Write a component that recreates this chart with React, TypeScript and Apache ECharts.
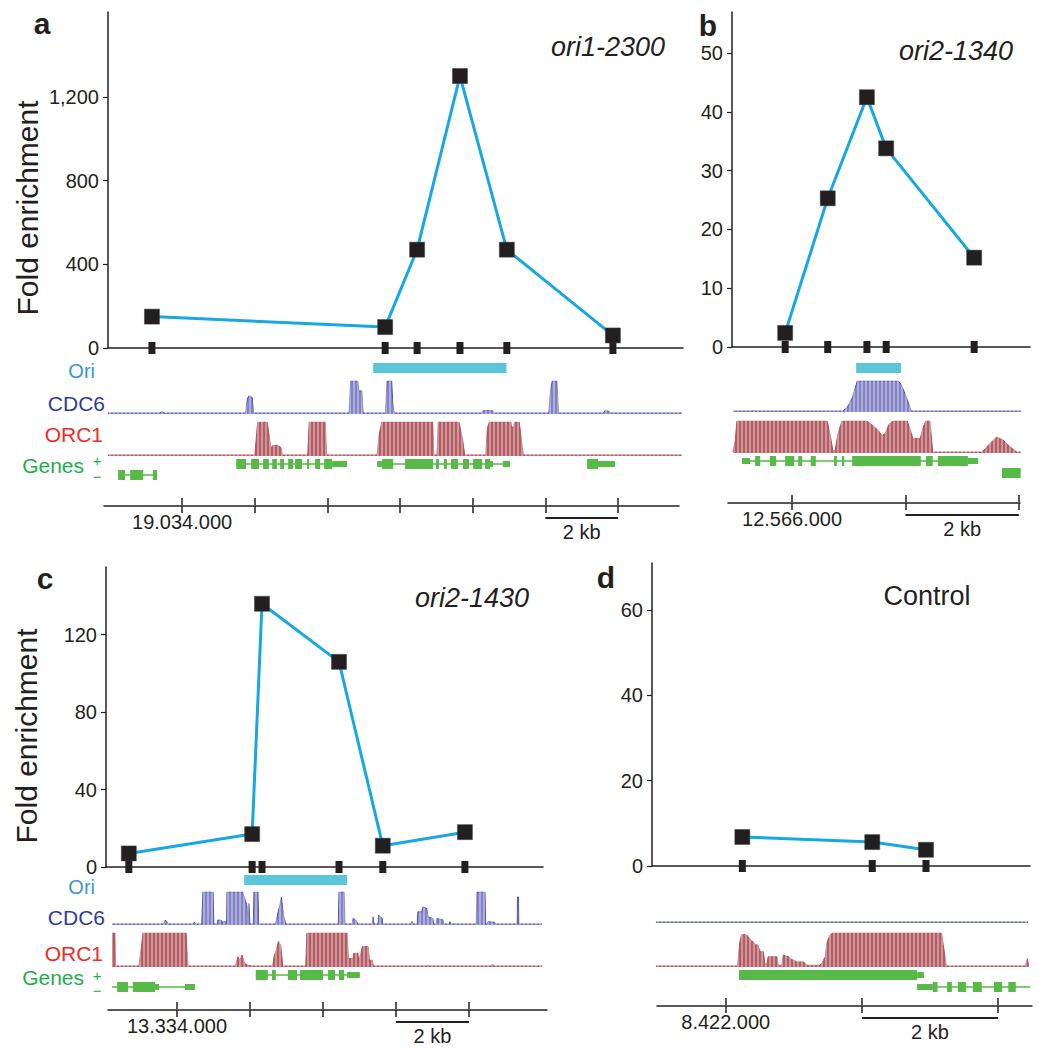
import React, { useEffect, useRef } from 'react';
import * as echarts from 'echarts';

// ================= DATA (positions in kb relative to the labelled coordinate) =================
// Panel a — ori1-2300 (reference 19.034.000)
const aProbeKb = [-0.83, 5.59, 6.47, 7.65, 8.94, 11.86];
const aFold = [150, 100, 470, 1300, 470, 60];
const aYTicks = [0, 400, 800, 1200];
const aOri = [5.26, 8.93];
const aCdc6 = [[-2.04, 0.03], [-0.62, 0.03], [-0.55, 0.07], [-0.48, 0.03], [1.75, 0.03], [1.79, 0.45], [1.84, 0.55], [1.93, 0.5], [1.97, 0.03], [4.6, 0.03], [4.64, 1], [4.84, 1], [4.86, 0.7], [4.95, 0.7], [4.98, 0.03], [5.6, 0.03], [5.64, 1], [5.77, 1], [5.8, 0.35], [5.84, 0.03], [8.26, 0.03], [8.29, 0.1], [8.54, 0.1], [8.57, 0.03], [10.1, 0.03], [10.14, 0.7], [10.19, 1], [10.32, 1], [10.36, 0.03], [11.6, 0.03], [11.64, 0.1], [11.76, 0.08], [11.79, 0.03], [13.76, 0.03]];
const aOrc1 = [[-2.04, 0.03], [2.0, 0.03], [2.04, 0.5], [2.08, 1], [2.34, 1], [2.4, 0.6], [2.44, 0.25], [2.5, 0.3], [2.62, 0.32], [2.72, 0.25], [2.76, 0.03], [3.46, 0.03], [3.5, 1], [3.94, 1], [3.98, 0.03], [5.37, 0.03], [5.42, 0.6], [5.5, 1], [6.9, 1], [6.93, 0.03], [7.02, 0.03], [7.05, 1], [7.62, 1], [7.72, 0.5], [7.78, 0.03], [8.36, 0.03], [8.4, 0.8], [8.46, 1], [9.05, 1], [9.07, 0.85], [9.13, 0.85], [9.16, 1], [9.28, 1], [9.34, 0.5], [9.39, 0.03], [13.76, 0.03]];
// genes: [start, end, row (0 = +, 1 = −), kind (0 intron, 1 UTR, 2 exon)]
const aGenes = [
  [1.49, 4.54, 0, 0], [1.49, 1.76, 0, 2], [1.9, 2.12, 0, 2], [2.23, 2.39, 0, 2], [2.48, 2.61, 0, 2], [2.7, 2.81, 0, 2], [2.92, 3.06, 0, 2], [3.11, 3.3, 0, 2], [3.44, 3.5, 0, 2], [3.66, 3.8, 0, 2], [3.91, 4.13, 0, 2], [4.13, 4.54, 0, 1],
  [5.37, 9.03, 0, 0], [5.37, 5.5, 0, 1], [5.5, 5.81, 0, 2], [6.14, 6.91, 0, 2], [6.99, 7.07, 0, 2], [7.21, 7.29, 0, 2], [7.4, 7.6, 0, 2], [7.73, 7.9, 0, 2], [8.01, 8.26, 0, 2], [8.34, 8.48, 0, 2], [8.48, 8.56, 0, 1], [8.83, 9.03, 0, 1],
  [11.15, 11.92, 0, 0], [11.15, 11.45, 0, 2], [11.45, 11.92, 0, 1],
  [-1.76, -0.69, 1, 0], [-1.76, -1.57, 1, 2], [-1.43, -1.07, 1, 2], [-0.8, -0.69, 1, 2],
];
const aScaleBar = [10, 12];
const aCoordTicks = [0, 2, 4, 6, 8, 10, 12];
const aCoordLabel = '19.034.000';

// Panel b — ori2-1340 (reference 12.566.000)
const bProbeKb = [-0.12, 0.63, 1.32, 1.66, 3.21];
const bFold = [2.4, 25.3, 42.5, 33.8, 15.2];
const bYTicks = [0, 10, 20, 30, 40, 50];
const bOri = [1.13, 1.92];
const bCdc6 = [[-1.04, 0.03], [-0.7, 0.03], [-0.68, 0.05], [-0.66, 0.03], [0.9, 0.03], [0.97, 0.15], [1.02, 0.3], [1.07, 0.5], [1.11, 0.75], [1.15, 1], [1.87, 1], [1.92, 0.9], [1.99, 0.6], [2.06, 0.25], [2.1, 0.03], [4.03, 0.03]];
const bOrc1 = [[-1.04, 0.03], [-1.0, 0.4], [-0.97, 1], [0.62, 1], [0.67, 0.6], [0.72, 0.08], [0.76, 0.08], [0.81, 0.6], [0.88, 1], [1.32, 1], [1.43, 0.85], [1.52, 0.7], [1.59, 0.55], [1.64, 0.6], [1.71, 0.9], [1.78, 1], [2.03, 1], [2.08, 0.75], [2.13, 0.45], [2.26, 0.45], [2.31, 0.8], [2.36, 1], [2.43, 1], [2.48, 0.03], [3.35, 0.03], [3.49, 0.3], [3.61, 0.5], [3.72, 0.4], [3.84, 0.2], [3.96, 0.03], [4.03, 0.03]];
const bGenes = [
  [-0.88, 3.28, 0, 0], [-0.88, -0.74, 0, 1], [-0.65, -0.56, 0, 2], [-0.39, -0.28, 0, 2], [-0.12, 0.04, 0, 2], [0.11, 0.18, 0, 2], [0.33, 0.42, 0, 2], [0.74, 0.79, 0, 2], [0.88, 0.92, 0, 2], [1.06, 2.27, 0, 2], [2.36, 2.48, 0, 2], [2.57, 3.1, 0, 2], [3.1, 3.28, 0, 1],
  [3.7, 4.03, 1, 2],
];
const bScaleBar = [2, 4];
const bCoordTicks = [0, 2, 4];
const bCoordLabel = '12.566.000';

// Panel c — ori2-1430 (reference 13.334.000)
const cProbeKb = [-1.32, 2.06, 2.33, 4.44, 5.64, 7.89];
const cFold = [7, 17, 136, 106, 11, 18];
const cYTicks = [0, 40, 80, 120];
const cOri = [1.84, 4.66];
const cCdc6 = [[-1.78, 0.03], [-0.36, 0.03], [-0.33, 0.15], [-0.27, 0.1], [-0.24, 0.03], [0.44, 0.03], [0.47, 0.08], [0.52, 0.03], [0.68, 0.03], [0.71, 1], [0.99, 1], [1.01, 0.03], [1.1, 0.03], [1.12, 0.15], [1.21, 0.15], [1.23, 0.03], [1.25, 0.1], [1.34, 0.1], [1.36, 0.03], [1.37, 1], [1.8, 1], [1.84, 0.85], [1.92, 0.6], [1.95, 0.03], [1.97, 0.65], [2.0, 0.03], [2.09, 0.03], [2.11, 1], [2.22, 1], [2.24, 0.03], [2.7, 0.03], [2.75, 0.3], [2.82, 0.6], [2.86, 0.85], [2.92, 0.3], [2.98, 0.03], [4.42, 0.03], [4.44, 1], [4.58, 1], [4.6, 0.03], [4.8, 0.03], [4.82, 0.2], [4.9, 0.15], [4.96, 0.03], [5.35, 0.03], [5.37, 0.25], [5.4, 0.03], [5.51, 0.03], [5.53, 0.3], [5.62, 0.2], [5.64, 0.03], [6.42, 0.03], [6.44, 0.12], [6.47, 0.03], [6.58, 0.03], [6.6, 0.4], [6.71, 0.4], [6.74, 0.55], [6.85, 0.5], [6.88, 0.25], [7.01, 0.2], [7.04, 0.03], [7.1, 0.03], [7.12, 0.2], [7.29, 0.15], [7.31, 0.03], [7.46, 0.03], [7.48, 0.1], [7.51, 0.03], [8.2, 0.03], [8.22, 1], [8.44, 1], [8.46, 0.03], [8.5, 0.03], [8.52, 0.1], [8.71, 0.08], [8.73, 0.03], [9.32, 0.03], [9.33, 0.85], [9.36, 0.85], [9.37, 0.03], [10.0, 0.03]];
const cOrc1 = [[-1.78, 1], [-1.7, 1], [-1.68, 0.03], [-1.04, 0.03], [-1.01, 0.3], [-0.93, 1], [0.25, 1], [0.3, 0.03], [1.6, 0.03], [1.67, 0.3], [1.72, 0.2], [1.78, 0.35], [1.86, 0.1], [1.95, 0.05], [2.05, 0.03], [2.62, 0.03], [2.66, 0.3], [2.72, 0.5], [2.78, 0.75], [2.84, 0.65], [2.9, 0.03], [3.53, 0.03], [3.56, 1], [4.66, 1], [4.7, 0.25], [4.82, 0.25], [4.84, 0.4], [4.96, 0.4], [4.98, 0.15], [5.08, 0.6], [5.24, 0.6], [5.27, 0.2], [5.35, 0.2], [5.38, 0.03], [6.85, 0.03], [6.88, 0.06], [6.92, 0.03], [8.6, 0.03], [8.64, 0.08], [8.7, 0.03], [10.0, 0.03]];
const cGenes = [
  [2.16, 5.01, 0, 0], [2.16, 2.49, 0, 2], [2.6, 2.71, 0, 2], [3.04, 3.29, 0, 2], [3.37, 4.0, 0, 2], [4.14, 4.33, 0, 2], [4.44, 4.58, 0, 2], [4.66, 5.01, 0, 1],
  [-1.78, 0.49, 1, 0], [-1.64, -1.34, 1, 2], [-1.21, -0.6, 1, 2], [-0.6, -0.49, 1, 1], [0.22, 0.49, 1, 1],
];
const cScaleBar = [6, 8];
const cCoordTicks = [0, 2, 4, 6, 8];
const cCoordLabel = '13.334.000';

// Panel d — Control (reference 8.422.000)
const dProbeKb = [0.24, 2.15, 2.94];
const dFold = [6.8, 5.6, 3.8];
const dYTicks = [0, 20, 40, 60];
const dCdc6 = [[-1.03, 0.03], [4.44, 0.03]];
const dOrc1 = [[-1.03, 0.03], [0.17, 0.03], [0.2, 0.7], [0.23, 0.95], [0.3, 0.95], [0.33, 0.88], [0.38, 0.75], [0.4, 0.75], [0.43, 0.65], [0.47, 0.65], [0.5, 0.45], [0.55, 0.45], [0.57, 0.1], [0.6, 0.1], [0.62, 0.3], [0.75, 0.3], [0.77, 0.05], [0.82, 0.05], [0.84, 0.35], [0.92, 0.3], [0.94, 0.25], [1.04, 0.15], [1.14, 0.15], [1.19, 0.05], [1.38, 0.05], [1.41, 0.12], [1.46, 0.3], [1.48, 0.7], [1.53, 0.95], [1.58, 1], [3.17, 1], [3.19, 0.7], [3.24, 0.03], [4.4, 0.03], [4.43, 0.25], [4.45, 0.03]];
const dGenes = [
  [0.19, 2.81, 0, 2], [2.81, 2.91, 0, 1],
  [2.81, 4.47, 1, 0], [2.81, 3.04, 1, 1], [3.04, 3.11, 1, 2], [3.25, 3.32, 1, 2], [3.41, 3.53, 1, 2], [3.63, 3.76, 1, 2], [3.94, 4.06, 1, 2], [4.15, 4.26, 1, 2],
];
const dScaleBar = [2, 4];
const dCoordTicks = [0, 2, 4];
const dCoordLabel = '8.422.000';

const geneRows = ['+', '−'];

// ================= STYLE =================
const FONT = "'Liberation Sans', Arial, Helvetica, sans-serif";
const NARROW = "'Liberation Sans Narrow', 'Liberation Sans', Arial, sans-serif";
const INK = '#231F20';
const BLUE = '#17A8E2';
const ORI = '#5BC5D9';
const CDC6_FILL = '#8383C6';
const CDC6_LINE = '#5454A8';
const ORC1_FILL = '#B45E64';
const ORC1_LINE = '#B0505A';
const GENE = '#56B948';

const panels: any[] = [
  {
    letter: 'a', letterPos: [42, 23], title: 'ori1-2300', titleStyle: { x: 665, y: 47, align: 'right', italic: true, narrow: true },
    probes: aProbeKb, fold: aFold, yTicks: aYTicks, yFmt: (v: number) => v.toLocaleString('en-US'), narrow: true,
    ori: aOri, cdc6: aCdc6, orc1: aOrc1, genes: aGenes, scale: aScaleBar, ticks: aCoordTicks, coordLabel: aCoordLabel,
    L: {
      main: { left: 108, top: 12, width: 575, height: 336, xMin: -2.04, xMax: 13.79, yMax: 1606 },
      ori: { top: 363, height: 10 }, cdc6: { top: 381, height: 33 }, orc1: { top: 422, height: 34 },
      genes: { top: 458.5, height: 22 }, coord: { left: 104, y: 506, width: 575, min: -2.15, max: 13.68 },
    },
    labels: { ori: 371, cdc6: 403, orc1: 434, genes: 465, plus: 460, minus: 476 }, foldPos: [27, 208],
  },
  {
    letter: 'b', letterPos: [708, 25], title: 'ori2-1340', titleStyle: { x: 1013, y: 51, align: 'right', italic: true },
    probes: bProbeKb, fold: bFold, yTicks: bYTicks, yFmt: (v: number) => String(v),
    ori: bOri, cdc6: bCdc6, orc1: bOrc1, genes: bGenes, scale: bScaleBar, ticks: bCoordTicks, coordLabel: bCoordLabel,
    L: {
      main: { left: 732, top: 12, width: 298, height: 335, xMin: -1.057, xMax: 4.194, yMax: 57 },
      ori: { top: 363, height: 10 }, cdc6: { top: 381, height: 31 }, orc1: { top: 421, height: 32 },
      genes: { top: 455, height: 24 }, coord: { left: 728, y: 503, width: 292, min: -1.13, max: 4.02 },
    },
  },
  {
    letter: 'c', letterPos: [45, 578], title: 'ori2-1430', titleStyle: { x: 529, y: 598, align: 'right', italic: true },
    probes: cProbeKb, fold: cFold, yTicks: cYTicks, yFmt: (v: number) => String(v),
    ori: cOri, cdc6: cCdc6, orc1: cOrc1, genes: cGenes, scale: cScaleBar, ticks: cCoordTicks, coordLabel: cCoordLabel,
    L: {
      main: { left: 106, top: 567, width: 437, height: 300, xMin: -1.945, xMax: 10.03, yMax: 155 },
      ori: { top: 875, height: 10 }, cdc6: { top: 892, height: 33 }, orc1: { top: 933, height: 34 },
      genes: { top: 969, height: 24 }, coord: { left: 108, y: 1010, width: 439, min: -1.89, max: 10.14 },
    },
    labels: { ori: 887, cdc6: 917, orc1: 953, genes: 977, plus: 975, minus: 990 }, foldPos: [26, 736],
  },
  {
    letter: 'd', letterPos: [606, 577], title: 'Control', titleStyle: { x: 927, y: 596, align: 'center', italic: false },
    probes: dProbeKb, fold: dFold, yTicks: dYTicks, yFmt: (v: number) => String(v),
    ori: null, cdc6: dCdc6, orc1: dOrc1, genes: dGenes, scale: dScaleBar, ticks: dCoordTicks, coordLabel: dCoordLabel,
    L: {
      main: { left: 652, top: 563, width: 378, height: 303, xMin: -1.088, xMax: 4.469, yMax: 71 },
      ori: null, cdc6: { top: 890, height: 33 }, orc1: { top: 933, height: 34 },
      genes: { top: 969, height: 24 }, coord: { left: 657, y: 1006, width: 375, min: -1.01, max: 4.5 },
    },
  },
];

function buildOption() {
  const grid: any[] = [];
  const xAxis: any[] = [];
  const yAxis: any[] = [];
  const series: any[] = [];
  const graphic: any[] = [];

  const hiddenX = (gi: number, min: number, max: number) => ({
    type: 'value', gridIndex: gi, min, max, show: false,
  });
  const hiddenY = (gi: number, min: number, max: number) => ({
    type: 'value', gridIndex: gi, min, max, show: false,
  });

  const stripes = (xi: number, yi: number) => ({
    type: 'custom', xAxisIndex: xi, yAxisIndex: yi, data: [[0, 0]], silent: true, z: 4, clip: false,
    renderItem: (params: any) => {
      const cs = params.coordSys;
      const children: any[] = [];
      for (let x = cs.x + 2; x < cs.x + cs.width; x += 4) {
        children.push({ type: 'line', shape: { x1: x, y1: cs.y - 1, x2: x, y2: cs.y + cs.height + 1 }, style: { stroke: '#ffffff', lineWidth: 1, opacity: 0.7 } });
      }
      return { type: 'group', children };
    },
  });

  panels.forEach((p) => {
    const L = p.L;
    const M = L.main;
    // ---------- main chart ----------
    const gMain = grid.length;
    grid.push({ left: M.left, top: M.top, width: M.width, height: M.height, containLabel: false });
    const xMain = xAxis.length;
    xAxis.push({
      type: 'value', gridIndex: gMain, min: M.xMin, max: M.xMax, position: 'bottom',
      axisLine: { show: true, onZero: false, lineStyle: { color: INK, width: 1.5 } },
      axisTick: { show: false }, axisLabel: { show: false }, splitLine: { show: false },
    });
    const yMain = yAxis.length;
    yAxis.push({
      type: 'value', gridIndex: gMain, min: 0, max: M.yMax, position: 'left',
      axisLine: { show: true, onZero: false, lineStyle: { color: INK, width: 1.5 } },
      axisTick: { show: true, length: 5, customValues: p.yTicks, lineStyle: { color: INK, width: 1.2 } },
      axisLabel: {
        customValues: p.yTicks, formatter: p.yFmt, color: INK, fontSize: 20, margin: 9,
        fontFamily: p.narrow ? NARROW : FONT,
      },
      splitLine: { show: false },
    });
    series.push({
      type: 'line', xAxisIndex: xMain, yAxisIndex: yMain,
      data: p.probes.map((x: number, i: number) => [x, p.fold[i]]),
      symbol: 'rect', symbolSize: 15, showSymbol: true,
      itemStyle: { color: INK, borderColor: '#3a3a3a', borderWidth: 0.5, opacity: 1 },
      lineStyle: { color: BLUE, width: 3 }, z: 5, clip: false,
    });
    series.push({
      type: 'scatter', xAxisIndex: xMain, yAxisIndex: yMain,
      data: p.probes.map((x: number) => [x, 0]),
      symbol: 'rect', symbolSize: [7, 12], itemStyle: { color: INK, opacity: 1 }, z: 4, clip: false,
    });

    // ---------- Ori track ----------
    if (p.ori && L.ori) {
      const g = grid.length;
      grid.push({ left: M.left, top: L.ori.top, width: M.width, height: L.ori.height });
      const xi = xAxis.length; xAxis.push(hiddenX(g, M.xMin, M.xMax));
      const yi = yAxis.length; yAxis.push(hiddenY(g, 0, 1));
      series.push({
        type: 'custom', xAxisIndex: xi, yAxisIndex: yi, data: [p.ori], encode: { x: [0, 1] }, silent: true,
        renderItem: (params: any, api: any) => {
          const a = api.coord([api.value(0), 1]);
          const b = api.coord([api.value(1), 0]);
          return { type: 'rect', shape: { x: a[0], y: a[1], width: b[0] - a[0], height: b[1] - a[1] }, style: { fill: ORI } };
        },
      });
    }

    // ---------- coverage tracks ----------
    const cov = (profile: number[][], box: any, fill: string, line: string) => {
      const g = grid.length;
      grid.push({ left: M.left, top: box.top, width: M.width, height: box.height });
      const xi = xAxis.length; xAxis.push(hiddenX(g, M.xMin, M.xMax));
      const yi = yAxis.length; yAxis.push(hiddenY(g, 0, 1));
      series.push({
        type: 'line', xAxisIndex: xi, yAxisIndex: yi, data: profile, symbol: 'none', showSymbol: false, silent: true,
        lineStyle: { color: line, width: 1 }, areaStyle: { color: fill, opacity: 1 }, z: 2,
      });
      series.push(stripes(xi, yi));
    };
    cov(p.cdc6, L.cdc6, CDC6_FILL, CDC6_LINE);
    cov(p.orc1, L.orc1, ORC1_FILL, ORC1_LINE);

    // ---------- genes ----------
    {
      const g = grid.length;
      grid.push({ left: M.left, top: L.genes.top, width: M.width, height: L.genes.height });
      const xi = xAxis.length; xAxis.push(hiddenX(g, M.xMin, M.xMax));
      const yi = yAxis.length;
      yAxis.push({ type: 'category', gridIndex: g, data: geneRows, inverse: true, show: false });
      series.push({
        type: 'custom', xAxisIndex: xi, yAxisIndex: yi, data: p.genes, encode: { x: [0, 1], y: 2 }, silent: true, z: 3,
        renderItem: (params: any, api: any) => {
          const row = api.value(2);
          const s = api.coord([api.value(0), row]);
          const e = api.coord([api.value(1), row]);
          const kind = api.value(3);
          if (kind === 0) {
            return { type: 'line', shape: { x1: s[0], y1: s[1], x2: e[0], y2: e[1] }, style: { stroke: GENE, lineWidth: 1.3 } };
          }
          const h = kind === 2 ? 10 : 6;
          return { type: 'rect', shape: { x: s[0], y: s[1] - h / 2, width: Math.max(e[0] - s[0], 1.5), height: h }, style: { fill: GENE } };
        },
      });
    }

    // ---------- genomic coordinate axis + scale bar ----------
    {
      const C = L.coord;
      const g = grid.length;
      grid.push({ left: C.left, top: C.y - 1, width: C.width, height: 1 });
      const xb = xAxis.length;
      xAxis.push({
        type: 'value', gridIndex: g, min: C.min, max: C.max, position: 'bottom',
        axisLine: { show: true, onZero: false, lineStyle: { color: INK, width: 1.5 } },
        axisTick: { show: true, length: 7, customValues: p.ticks, lineStyle: { color: INK, width: 1.5 } },
        axisLabel: { show: true, customValues: [0], formatter: () => p.coordLabel, color: INK, fontSize: 20, margin: 6, fontFamily: FONT },
        splitLine: { show: false },
      });
      xAxis.push({
        type: 'value', gridIndex: g, min: C.min, max: C.max, position: 'top',
        axisLine: { show: false, onZero: false },
        axisTick: { show: true, length: 7, customValues: p.ticks, lineStyle: { color: INK, width: 1.5 } },
        axisLabel: { show: false }, splitLine: { show: false },
      });
      const yi = yAxis.length; yAxis.push(hiddenY(g, 0, 1));
      series.push({
        type: 'custom', xAxisIndex: xb, yAxisIndex: yi, data: [p.scale], encode: { x: [0, 1] }, silent: true, clip: false,
        renderItem: (params: any, api: any) => {
          const a = api.coord([api.value(0), 0]);
          const b = api.coord([api.value(1), 0]);
          const y = a[1] + 12;
          return {
            type: 'group', children: [
              { type: 'line', shape: { x1: a[0], y1: y, x2: b[0], y2: y }, style: { stroke: INK, lineWidth: 2 } },
              { type: 'text', x: (a[0] + b[0]) / 2, y: y + 4, style: { text: `${api.value(1) - api.value(0)} kb`, fill: INK, fontSize: 20, fontFamily: FONT, align: 'center', verticalAlign: 'top' } },
            ],
          };
        },
      });
    }

    // ---------- texts ----------
    graphic.push({ type: 'text', x: p.letterPos[0], y: p.letterPos[1], style: { text: p.letter, fill: INK, fontSize: 30, fontWeight: 'bold', fontFamily: FONT, align: 'center', verticalAlign: 'middle' } });
    const ts = p.titleStyle;
    graphic.push({ type: 'text', x: ts.x, y: ts.y, style: { text: p.title, fill: INK, fontSize: 27, fontStyle: ts.italic ? 'italic' : 'normal', fontFamily: ts.narrow ? NARROW : FONT, align: ts.align, verticalAlign: 'middle' } });
    if (p.foldPos) {
      graphic.push({ type: 'text', x: p.foldPos[0], y: p.foldPos[1], rotation: Math.PI / 2, style: { text: 'Fold enrichment', fill: INK, fontSize: 30, fontFamily: FONT, align: 'center', verticalAlign: 'middle' } });
    }
    if (p.labels) {
      const lb = p.labels;
      const t = (text: string, x: number, y: number, color: string, size = 21, align = 'right') =>
        graphic.push({ type: 'text', x, y, style: { text, fill: color, fontSize: size, fontFamily: FONT, align, verticalAlign: 'middle' } });
      t('Ori', 95, lb.ori, '#3C96D8', 20);
      t('CDC6', 105, lb.cdc6, '#2E3D99');
      t('ORC1', 103, lb.orc1, '#EE2A24');
      t('Genes', 84, lb.genes, '#1AAE4A');
      t('+', 97, lb.plus, '#1AAE4A', 15, 'center');
      t('−', 97, lb.minus, '#1AAE4A', 15, 'center');
    }
  });

  return {
    animation: false,
    textStyle: { fontFamily: FONT },
    grid, xAxis, yAxis, series, graphic,
  };
}

export default function App() {
  const ref = useRef<HTMLDivElement>(null);
  useEffect(() => {
    document.body.style.margin = '0';
    if (!ref.current) return;
    const chart = echarts.init(ref.current, undefined, { renderer: 'svg' });
    chart.setOption(buildOption() as any);
    return () => chart.dispose();
  }, []);
  return <div ref={ref} style={{ width: 1039, height: 1050, background: '#ffffff' }} />;
}
